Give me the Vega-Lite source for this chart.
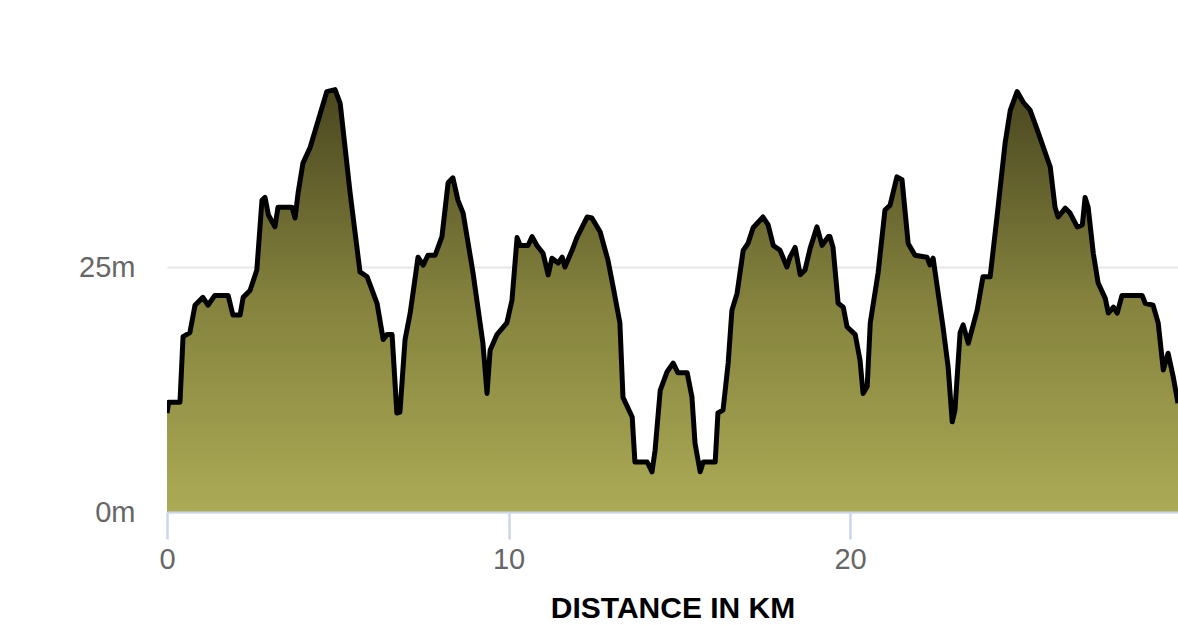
{
  "$schema": "https://vega.github.io/schema/vega-lite/v6.json",
  "width": 1011,
  "height": 441,
  "autosize": {"type": "none"},
  "padding": {"left": 167, "top": 71, "right": 0, "bottom": 113},
  "background": "white",
  "config": {
    "view": {"stroke": null},
    "font": "Liberation Sans"
  },
  "data": {
    "values": [
      {"km": 0, "elev": 10.1},
      {"km": 0.05, "elev": 11.2},
      {"km": 0.38, "elev": 11.2},
      {"km": 0.47, "elev": 17.9},
      {"km": 0.67, "elev": 18.3},
      {"km": 0.82, "elev": 21.1},
      {"km": 1.05, "elev": 21.9},
      {"km": 1.2, "elev": 21.1},
      {"km": 1.4, "elev": 22.1},
      {"km": 1.79, "elev": 22.1},
      {"km": 1.93, "elev": 20.1},
      {"km": 2.14, "elev": 20.1},
      {"km": 2.23, "elev": 21.9},
      {"km": 2.43, "elev": 22.6},
      {"km": 2.63, "elev": 24.7},
      {"km": 2.78, "elev": 31.8},
      {"km": 2.87, "elev": 32.1},
      {"km": 2.97, "elev": 30.3},
      {"km": 3.16, "elev": 29.1},
      {"km": 3.25, "elev": 31.1},
      {"km": 3.66, "elev": 31.1},
      {"km": 3.75, "elev": 30.0},
      {"km": 3.84, "elev": 32.6},
      {"km": 3.98, "elev": 35.6},
      {"km": 4.19, "elev": 37.2},
      {"km": 4.68, "elev": 42.9},
      {"km": 4.92, "elev": 43.1},
      {"km": 5.07, "elev": 41.7},
      {"km": 5.36, "elev": 32.6},
      {"km": 5.65, "elev": 24.5},
      {"km": 5.86, "elev": 24.0},
      {"km": 6.15, "elev": 21.3},
      {"km": 6.33, "elev": 17.6},
      {"km": 6.44, "elev": 18.1},
      {"km": 6.59, "elev": 18.1},
      {"km": 6.73, "elev": 10.1},
      {"km": 6.82, "elev": 10.2},
      {"km": 6.97, "elev": 17.6},
      {"km": 7.12, "elev": 20.3},
      {"km": 7.35, "elev": 26.0},
      {"km": 7.5, "elev": 25.2},
      {"km": 7.64, "elev": 26.2},
      {"km": 7.85, "elev": 26.2},
      {"km": 8.05, "elev": 28.1},
      {"km": 8.23, "elev": 33.6},
      {"km": 8.37, "elev": 34.1},
      {"km": 8.52, "elev": 31.8},
      {"km": 8.67, "elev": 30.5},
      {"km": 8.96, "elev": 24.4},
      {"km": 9.25, "elev": 17.2},
      {"km": 9.37, "elev": 12.1},
      {"km": 9.46, "elev": 16.5},
      {"km": 9.66, "elev": 18.1},
      {"km": 9.95, "elev": 19.3},
      {"km": 10.1, "elev": 21.6},
      {"km": 10.25, "elev": 28.0},
      {"km": 10.34, "elev": 27.2},
      {"km": 10.57, "elev": 27.2},
      {"km": 10.69, "elev": 28.1},
      {"km": 10.83, "elev": 27.2},
      {"km": 11.01, "elev": 26.4},
      {"km": 11.16, "elev": 24.2},
      {"km": 11.27, "elev": 25.9},
      {"km": 11.45, "elev": 25.4},
      {"km": 11.57, "elev": 26.0},
      {"km": 11.65, "elev": 25.0},
      {"km": 11.86, "elev": 26.7},
      {"km": 12.0, "elev": 28.0},
      {"km": 12.3, "elev": 30.1},
      {"km": 12.44, "elev": 30.0},
      {"km": 12.68, "elev": 28.6},
      {"km": 12.91, "elev": 25.7},
      {"km": 13.06, "elev": 23.0},
      {"km": 13.26, "elev": 19.3},
      {"km": 13.35, "elev": 11.7},
      {"km": 13.62, "elev": 9.7},
      {"km": 13.7, "elev": 5.1},
      {"km": 14.06, "elev": 5.1},
      {"km": 14.2, "elev": 4.1},
      {"km": 14.29, "elev": 6.3},
      {"km": 14.44, "elev": 12.4},
      {"km": 14.64, "elev": 14.3},
      {"km": 14.82, "elev": 15.2},
      {"km": 14.96, "elev": 14.2},
      {"km": 15.23, "elev": 14.2},
      {"km": 15.37, "elev": 11.7},
      {"km": 15.46, "elev": 7.0},
      {"km": 15.61, "elev": 4.1},
      {"km": 15.7, "elev": 5.1},
      {"km": 16.05, "elev": 5.1},
      {"km": 16.13, "elev": 10.1},
      {"km": 16.28, "elev": 10.4},
      {"km": 16.43, "elev": 15.2},
      {"km": 16.54, "elev": 20.6},
      {"km": 16.69, "elev": 22.3},
      {"km": 16.87, "elev": 26.7},
      {"km": 17.01, "elev": 27.4},
      {"km": 17.16, "elev": 29.0},
      {"km": 17.45, "elev": 30.1},
      {"km": 17.6, "elev": 29.3},
      {"km": 17.75, "elev": 27.2},
      {"km": 17.95, "elev": 26.7},
      {"km": 18.15, "elev": 25.0},
      {"km": 18.24, "elev": 26.0},
      {"km": 18.39, "elev": 27.0},
      {"km": 18.54, "elev": 24.2},
      {"km": 18.68, "elev": 24.7},
      {"km": 18.83, "elev": 26.9},
      {"km": 19.03, "elev": 29.1},
      {"km": 19.18, "elev": 27.2},
      {"km": 19.36, "elev": 28.1},
      {"km": 19.41, "elev": 28.1},
      {"km": 19.5, "elev": 27.0},
      {"km": 19.65, "elev": 21.3},
      {"km": 19.8, "elev": 20.9},
      {"km": 19.91, "elev": 18.9},
      {"km": 20.15, "elev": 18.1},
      {"km": 20.29, "elev": 15.5},
      {"km": 20.38, "elev": 12.1},
      {"km": 20.5, "elev": 12.8},
      {"km": 20.59, "elev": 19.3},
      {"km": 20.82, "elev": 24.4},
      {"km": 21.02, "elev": 30.8},
      {"km": 21.17, "elev": 31.3},
      {"km": 21.37, "elev": 34.2},
      {"km": 21.52, "elev": 33.9},
      {"km": 21.7, "elev": 27.4},
      {"km": 21.9, "elev": 26.2},
      {"km": 22.25, "elev": 26.0},
      {"km": 22.34, "elev": 25.2},
      {"km": 22.43, "elev": 25.9},
      {"km": 22.72, "elev": 18.9},
      {"km": 22.87, "elev": 14.8},
      {"km": 22.99, "elev": 9.2},
      {"km": 23.07, "elev": 10.4},
      {"km": 23.22, "elev": 18.3},
      {"km": 23.31, "elev": 19.1},
      {"km": 23.46, "elev": 17.2},
      {"km": 23.72, "elev": 20.6},
      {"km": 23.89, "elev": 24.0},
      {"km": 24.1, "elev": 24.0},
      {"km": 24.3, "elev": 30.1},
      {"km": 24.54, "elev": 37.7},
      {"km": 24.69, "elev": 41.0},
      {"km": 24.89, "elev": 42.9},
      {"km": 25.07, "elev": 41.8},
      {"km": 25.27, "elev": 41.0},
      {"km": 25.48, "elev": 39.0},
      {"km": 25.86, "elev": 35.2},
      {"km": 26.0, "elev": 31.1},
      {"km": 26.09, "elev": 30.1},
      {"km": 26.3, "elev": 31.0},
      {"km": 26.44, "elev": 30.5},
      {"km": 26.65, "elev": 29.1},
      {"km": 26.8, "elev": 29.3},
      {"km": 26.88, "elev": 32.1},
      {"km": 26.97, "elev": 31.1},
      {"km": 27.12, "elev": 26.4},
      {"km": 27.26, "elev": 23.4},
      {"km": 27.47, "elev": 21.8},
      {"km": 27.56, "elev": 20.3},
      {"km": 27.71, "elev": 20.9},
      {"km": 27.82, "elev": 20.3},
      {"km": 27.96, "elev": 22.1},
      {"km": 28.55, "elev": 22.1},
      {"km": 28.64, "elev": 21.3},
      {"km": 28.87, "elev": 21.1},
      {"km": 29.02, "elev": 19.3},
      {"km": 29.17, "elev": 14.5},
      {"km": 29.31, "elev": 16.2},
      {"km": 29.46, "elev": 13.8},
      {"km": 29.6, "elev": 11.1}
    ]
  },
  "mark": {
    "type": "area",
    "clip": true,
    "opacity": 1,
    "fillOpacity": 1,
    "line": {"color": "#000000", "strokeWidth": 5, "strokeJoin": "round", "opacity": 1},
    "color": {
      "gradient": "linear",
      "x1": 0, "y1": 1, "x2": 0, "y2": 0,
      "stops": [
        {"offset": 0, "color": "#abab56"},
        {"offset": 0.5, "color": "#84823d"},
        {"offset": 1, "color": "#4a4720"}
      ]
    }
  },
  "encoding": {
    "x": {
      "field": "km",
      "type": "quantitative",
      "scale": {"domain": [0, 29.6], "nice": false, "zero": false},
      "axis": {
        "values": [0, 10, 20],
        "grid": false,
        "zindex": 1,
        "domainColor": "#ccd6eb",
        "domainWidth": 2,
        "tickColor": "#ccd6eb",
        "tickWidth": 2.5,
        "tickSize": 27,
        "labelFontSize": 29,
        "labelColor": "#666666",
        "labelPadding": 6,
        "labelFlush": false,
        "title": "DISTANCE IN KM",
        "titleFontSize": 30,
        "titleFontWeight": "bold",
        "titleColor": "#000000",
        "titlePadding": 19
      }
    },
    "y": {
      "field": "elev",
      "type": "quantitative",
      "scale": {"domain": [0, 45], "nice": false},
      "axis": {
        "values": [0, 25],
        "labelExpr": "datum.value + 'm'",
        "domain": false,
        "ticks": false,
        "grid": true,
        "gridColor": "#e6e6e6",
        "gridWidth": 2,
        "labelFontSize": 29,
        "labelColor": "#666666",
        "labelPadding": 32,
        "title": null
      }
    }
  }
}
